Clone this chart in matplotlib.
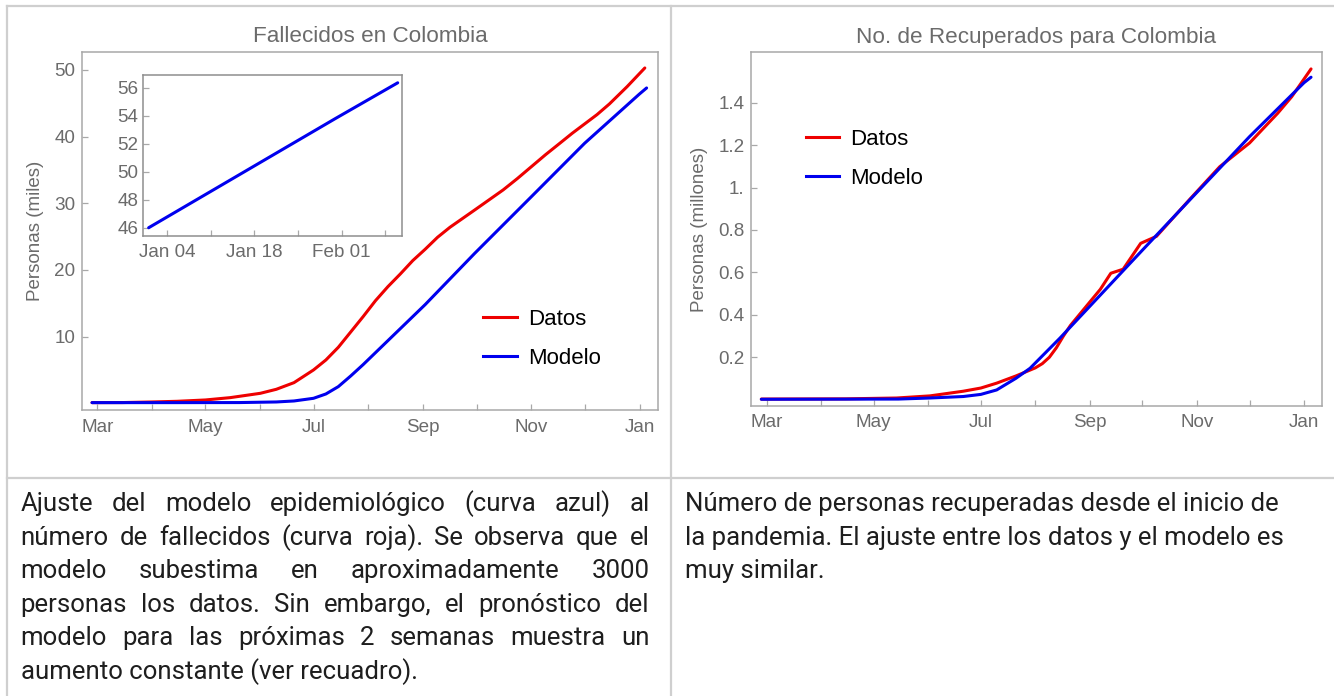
import matplotlib
matplotlib.use("Agg")
import matplotlib.pyplot as plt
from matplotlib.lines import Line2D
from datetime import datetime, timedelta

W, H, DPI = 1334, 696, 100

# ------------------------------------------------------------------ data
fall_data_dates = ["2020-02-27", "2020-03-15", "2020-04-01", "2020-04-15", "2020-05-01",
                   "2020-05-15", "2020-06-01", "2020-06-10", "2020-06-20", "2020-07-01",
                   "2020-07-08", "2020-07-15", "2020-07-22", "2020-07-29", "2020-08-05",
                   "2020-08-12", "2020-08-19", "2020-08-26", "2020-09-02", "2020-09-09",
                   "2020-09-16", "2020-09-23", "2020-09-30", "2020-10-08", "2020-10-16",
                   "2020-10-24", "2020-11-01", "2020-11-09", "2020-11-17", "2020-11-24",
                   "2020-12-01", "2020-12-08", "2020-12-15", "2020-12-20", "2020-12-25",
                   "2020-12-30", "2021-01-04"]
fall_data_vals = [0.10, 0.11, 0.20, 0.30, 0.50,
                  0.85, 1.50, 2.10, 3.10, 5.00,
                  6.50, 8.40, 10.7, 13.0, 15.4,
                  17.5, 19.4, 21.4, 23.1, 24.9,
                  26.4, 27.7, 29.0, 30.5, 32.0,
                  33.7, 35.5, 37.3, 39.0, 40.5,
                  41.9, 43.3, 44.9, 46.2, 47.5,
                  48.9, 50.3]

fall_model_dates = ["2020-02-27", "2020-04-15", "2020-05-20", "2020-06-10", "2020-06-20",
                    "2020-07-01", "2020-07-08", "2020-07-15", "2020-07-22", "2020-07-29",
                    "2020-08-05", "2020-08-12", "2020-08-19", "2020-08-26", "2020-09-02",
                    "2020-09-30", "2020-11-01", "2020-12-01", "2021-01-01", "2021-01-05"]
fall_model_vals = [0.10, 0.10, 0.11, 0.20, 0.35,
                   0.75, 1.40, 2.50, 4.10, 5.80,
                   7.60, 9.40, 11.2, 13.0, 14.8,
                   22.5, 31.0, 39.0, 46.4, 47.3]

inset_dates = ["2021-01-01", "2021-01-11", "2021-01-21", "2021-01-31", "2021-02-10"]
inset_vals = [46.0, 48.6, 51.2, 53.8, 56.35]

rec_data_dates = ["2020-02-27", "2020-04-15", "2020-05-14", "2020-06-02", "2020-06-21",
                  "2020-07-01", "2020-07-10", "2020-07-21", "2020-08-01", "2020-08-05",
                  "2020-08-09", "2020-08-13", "2020-08-17", "2020-08-21", "2020-08-25",
                  "2020-08-30", "2020-09-07", "2020-09-13", "2020-09-20", "2020-09-30",
                  "2020-10-09", "2020-10-28", "2020-11-14", "2020-12-01", "2020-12-17",
                  "2020-12-25", "2021-01-05"]
rec_data_vals = [0.003, 0.004, 0.008, 0.018, 0.040,
                 0.055, 0.078, 0.112, 0.150, 0.170,
                 0.200, 0.245, 0.300, 0.350, 0.390,
                 0.440, 0.520, 0.596, 0.615, 0.737,
                 0.770, 0.945, 1.098, 1.210, 1.350,
                 1.428, 1.559]

rec_model_dates = ["2020-02-27", "2020-05-15", "2020-06-02", "2020-06-21", "2020-07-01",
                   "2020-07-10", "2020-07-21", "2020-07-29", "2020-08-15", "2020-09-01",
                   "2020-10-01", "2020-10-28", "2020-12-01", "2021-01-01", "2021-01-05"]
rec_model_vals = [0.002, 0.003, 0.008, 0.015, 0.025,
                  0.046, 0.101, 0.148, 0.290, 0.440,
                  0.705, 0.942, 1.240, 1.494, 1.520]

month_ticks = ["2020-03-01", "2020-04-01", "2020-05-01", "2020-06-01", "2020-07-01",
               "2020-08-01", "2020-09-01", "2020-10-01", "2020-11-01", "2020-12-01",
               "2021-01-01"]
month_labels = ["Mar", "", "May", "", "Jul", "", "Sep", "", "Nov", "", "Jan"]

inset_ticks = ["2021-01-04", "2021-01-11", "2021-01-18", "2021-01-25", "2021-02-01", "2021-02-08"]
inset_labels = ["Jan 04", "", "Jan 18", "", "Feb 01", ""]
inset_yticks = [46, 48, 50, 52, 54, 56]

fall_yticks = [10, 20, 30, 40, 50]
rec_yticks = [0.2, 0.4, 0.6, 0.8, 1.0, 1.2, 1.4]
rec_ylabels = ["0.2", "0.4", "0.6", "0.8", "1.", "1.2", "1.4"]

series_labels = ["Datos", "Modelo"]
titles = ["Fallecidos en Colombia", "No. de Recuperados para Colombia"]
ylabels = ["Personas (miles)", "Personas (millones)"]

left_text = ["Ajuste del modelo epidemiológico (curva azul) al",
             "número de fallecidos (curva roja). Se observa que el",
             "modelo subestima en aproximadamente 3000",
             "personas los datos. Sin embargo, el pronóstico del",
             "modelo para las próximas 2 semanas muestra un",
             "aumento constante (ver recuadro)."]
right_text = ["Número de personas recuperadas desde el inicio de",
              "la pandemia. El ajuste entre los datos y el modelo es",
              "muy similar."]

# ------------------------------------------------------------------ style
RED, BLUE = "#ee0000", "#0000ee"
LW = 2.2
TICKC = "#6b6b6b"
FRAMEC = "#a8a8a8"
CHART_FONT = "Liberation Sans"
TEXT_FONT = "Roboto"


def d(s):
    return datetime.strptime(s, "%Y-%m-%d")


def rect(x0, y0, x1, y1):
    return [x0 / W, 1 - y1 / H, (x1 - x0) / W, (y1 - y0) / H]


fig = plt.figure(figsize=(W / DPI, H / DPI), dpi=DPI)
fig.patch.set_facecolor("white")

# table lines
LINEC = "#cfcfcf"
def hline(y, x0, x1):
    fig.add_artist(Line2D([x0 / W, x1 / W], [1 - y / H, 1 - y / H], color=LINEC, lw=1.6,
                          transform=fig.transFigure))
def vline(x, y0, y1):
    fig.add_artist(Line2D([x / W, x / W], [1 - y0 / H, 1 - y1 / H], color=LINEC, lw=1.6,
                          transform=fig.transFigure))
hline(5.8, 6.5, W)
hline(477.5, 6.5, W)
vline(6.8, 5.8, H)
vline(670.7, 5.8, H)


def style_axes(ax, labelsize=13.6, xpad=5.8, ypad=4.5):
    for s in ax.spines.values():
        s.set_color(FRAMEC)
        s.set_linewidth(1.1)
    ax.tick_params(axis="both", which="both", direction="in", length=4.5, width=0.9,
                   color=FRAMEC, labelcolor=TICKC, labelsize=labelsize,
                   top=False, right=False)
    ax.tick_params(axis="x", pad=xpad)
    ax.tick_params(axis="y", pad=ypad)
    for lab in ax.get_xticklabels() + ax.get_yticklabels():
        lab.set_family(CHART_FONT)


def add_legend(ax, x_handle, y_center):
    handles = [Line2D([], [], color=RED, lw=LW), Line2D([], [], color=BLUE, lw=LW)]
    leg = ax.legend(handles, series_labels, loc="center left",
                    bbox_to_anchor=(x_handle / W, 1 - y_center / H),
                    bbox_transform=fig.transFigure, frameon=False, borderpad=0,
                    borderaxespad=0, handlelength=1.5, handletextpad=0.5,
                    labelspacing=0.8, prop={"family": CHART_FONT, "size": 16})
    for t in leg.get_texts():
        t.set_color("black")


# ------------------------------------------------------------------ left chart
ax1 = fig.add_axes(rect(81.7, 51.7, 658.2, 410.5))
ax1.plot([d(s) for s in fall_data_dates], fall_data_vals, color=RED, lw=LW,
         solid_capstyle="round", solid_joinstyle="round")
ax1.plot([d(s) for s in fall_model_dates], fall_model_vals, color=BLUE, lw=LW,
         solid_capstyle="round", solid_joinstyle="round")
ax1.set_xlim(d("2020-03-01") - timedelta(days=8.83), d("2021-01-01") + timedelta(days=10.55))
ax1.set_ylim(-1.08, 52.74)
ax1.set_xticks([d(s) for s in month_ticks])
ax1.set_xticklabels(month_labels)
ax1.set_yticks(fall_yticks)
ax1.set_yticklabels([str(v) for v in fall_yticks])
style_axes(ax1)
add_legend(ax1, 483.3, 339.0)
fig.text(370 / W, 1 - 37 / H, titles[0], ha="center", va="center", color=TICKC,
         fontsize=16.2, family=CHART_FONT)
fig.text(36 / W, 1 - 231 / H, ylabels[0], ha="center", va="center", rotation=90,
         color=TICKC, fontsize=13.5, family=CHART_FONT)

# inset
axi = fig.add_axes(rect(143.3, 75.3, 402.3, 236.0))
axi.plot([d(s) for s in inset_dates], inset_vals, color=BLUE, lw=LW, solid_capstyle="round")
axi.set_xlim(d("2021-01-04") - timedelta(days=3.86), d("2021-02-01") + timedelta(days=9.74))
axi.set_ylim(45.41, 56.886)
axi.set_xticks([d(s) for s in inset_ticks])
axi.set_xticklabels(inset_labels)
axi.set_yticks(inset_yticks)
axi.set_yticklabels([str(v) for v in inset_yticks])
style_axes(axi, xpad=6.0, ypad=3.5)
for s in axi.spines.values():
    s.set_color("#8e8e8e")

# ------------------------------------------------------------------ right chart
ax2 = fig.add_axes(rect(750.8, 52.0, 1322.2, 406.0))
ax2.plot([d(s) for s in rec_data_dates], rec_data_vals, color=RED, lw=LW,
         solid_capstyle="round", solid_joinstyle="round")
ax2.plot([d(s) for s in rec_model_dates], rec_model_vals, color=BLUE, lw=LW,
         solid_capstyle="round", solid_joinstyle="round")
ax2.set_xlim(d("2020-03-01") - timedelta(days=9.0), d("2021-01-01") + timedelta(days=10.36))
ax2.set_ylim(-0.0297, 1.6388)
ax2.set_xticks([d(s) for s in month_ticks])
ax2.set_xticklabels(month_labels)
ax2.set_yticks(rec_yticks)
ax2.set_yticklabels(rec_ylabels)
style_axes(ax2)
add_legend(ax2, 806.0, 159.0)
fig.text(1036.5 / W, 1 - 37 / H, titles[1], ha="center", va="center", color=TICKC,
         fontsize=16.2, family=CHART_FONT)
fig.text(700 / W, 1 - 229 / H, ylabels[1], ha="center", va="center", rotation=90,
         color=TICKC, fontsize=13.5, family=CHART_FONT)

# ------------------------------------------------------------------ text cells
renderer = fig.canvas.get_renderer()
TEXTC = "#1e1e1e"


def text_width(s, fs):
    t = fig.text(0, 0, s, fontsize=fs, family=TEXT_FONT)
    w = t.get_window_extent(renderer).width
    t.remove()
    return w


w10 = text_width(right_text[0], 10)
FS = 10 * 594.0 / w10

LINE_H = 33.6
BASE0 = 511.0


def draw_par(lines, x_left, x_right, justify):
    for i, line in enumerate(lines):
        yb = 1 - (BASE0 + i * LINE_H) / H
        if (not justify) or i == len(lines) - 1:
            fig.text(x_left / W, yb, line, fontsize=FS, family=TEXT_FONT, color=TEXTC,
                     ha="left", va="baseline")
            continue
        words = line.split(" ")
        widths = [text_width(wd, FS) for wd in words]
        gap = (x_right - x_left - sum(widths)) / (len(words) - 1)
        x = x_left
        for wd, ww in zip(words, widths):
            fig.text(x / W, yb, wd, fontsize=FS, family=TEXT_FONT, color=TEXTC,
                     ha="left", va="baseline")
            x += ww + gap


draw_par(left_text, 20.7, 649.5, True)
draw_par(right_text, 685.0, 1283.0, False)

fig.savefig("out.png", dpi=DPI, facecolor="white")
